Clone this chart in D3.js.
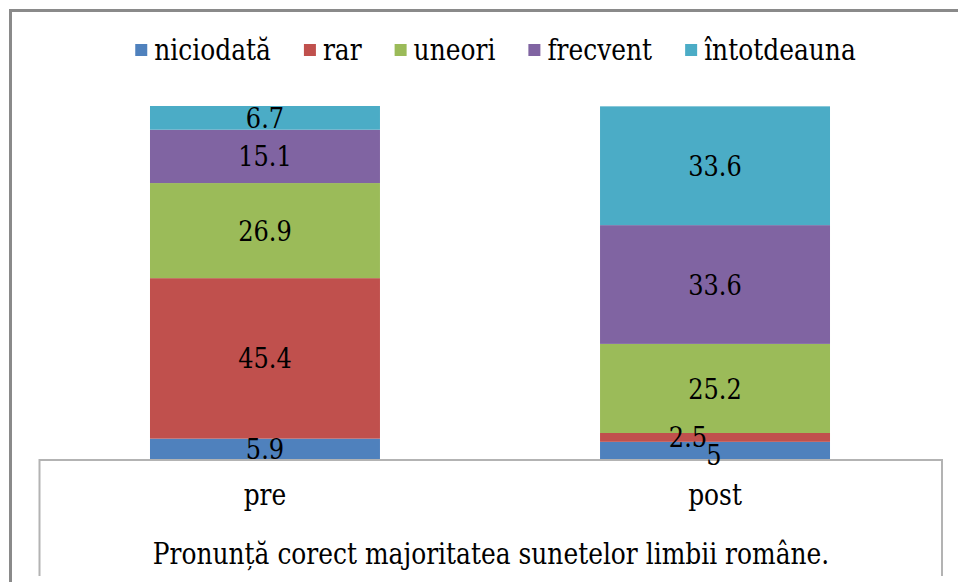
<!DOCTYPE html>
<html>
<head>
<meta charset="utf-8">
<script src="https://cdn.jsdelivr.net/npm/d3@7/dist/d3.min.js"></script>
<style>
  html, body { margin: 0; padding: 0; background: #ffffff; }
  svg { display: block; }
</style>
</head>
<body>
<svg id="chart" width="958" height="582"></svg>
<script>
// Chart data
const categories = ["pre", "post"];
const seriesNames = ["niciodată", "rar", "uneori", "frecvent", "întotdeauna"];
const niciodata   = [5.9, 5];
const rar         = [45.4, 2.5];
const uneori      = [26.9, 25.2];
const frecvent    = [15.1, 33.6];
const intotdeauna = [6.7, 33.6];
const axisTitle = "Pronunță corect majoritatea sunetelor limbii române.";

const seriesValues = [niciodata, rar, uneori, frecvent, intotdeauna];
const colors = ["#4F81BD", "#C0504D", "#9BBB59", "#8064A2", "#4BACC6"];
const serif = "DejaVu Serif";
const narrow = 0.86; // horizontal squeeze for a Times-like narrow serif

const svg = d3.select("#chart");

// Place a text at (x, y), narrowed horizontally
function place(sel, fx, fy) {
  sel.attr("x", 0).attr("y", 0)
    .attr("transform", (d, i) => `translate(${fx(d, i)},${fy(d, i)}) scale(${narrow},1)`);
}

// Outer chart border (continues past the right and bottom edges)
svg.append("path")
  .attr("d", "M10.5,600 L10.5,10.5 L980,10.5")
  .attr("fill", "none")
  .attr("stroke", "#8a8a8a")
  .attr("stroke-width", 3);

// Table of rows for the stack
const rows = categories.map((c, i) => {
  const r = { category: c };
  seriesNames.forEach((s, k) => { r[s] = seriesValues[k][i]; });
  return r;
});
const stacked = d3.stack().keys(seriesNames)(rows);

const x = d3.scaleBand()
  .domain(categories)
  .range([40, 940])
  .paddingInner(0.489)
  .paddingOuter(0.2444);

const y = d3.scaleLinear().domain([0, 100]).range([459.5, 106]);

// Bars
const layers = svg.append("g").selectAll("g")
  .data(stacked)
  .join("g")
  .attr("fill", (d, i) => colors[i]);

layers.selectAll("rect")
  .data(d => d)
  .join("rect")
  .attr("x", d => x(d.data.category))
  .attr("width", x.bandwidth())
  .attr("y", d => y(d[1]))
  .attr("height", d => y(d[0]) - y(d[1]));

// Category axis box drawn over the base of the bars
svg.append("path")
  .attr("d", "M39.5,576 L39.5,460 L942,460 L942,576")
  .attr("fill", "none")
  .attr("stroke", "#b3b3b3")
  .attr("stroke-width", 2);

// Category labels
svg.append("g").selectAll("text")
  .data(categories)
  .join("text")
  .attr("text-anchor", "middle")
  .attr("font-family", serif)
  .attr("font-size", 29)
  .text(d => d)
  .call(place, d => x(d) + x.bandwidth() / 2, () => 505);

// Axis title
svg.append("text")
  .datum(axisTitle)
  .attr("text-anchor", "middle")
  .attr("font-family", serif)
  .attr("font-size", 29)
  .text(d => d)
  .call(place, () => 491, () => 564);

// Data labels, centred in each segment; tiny segments are nudged to avoid overlap
const labelNudge = { "post|rar": [-27, 0], "post|niciodată": [-1, 4] };
const labels = [];
stacked.forEach(layer => {
  layer.forEach(d => {
    labels.push({ key: layer.key, cat: d.data.category, v: d.data[layer.key], y0: d[0], y1: d[1] });
  });
});
const nudge = d => labelNudge[d.cat + "|" + d.key] || [0, 0];
svg.append("g").selectAll("text")
  .data(labels)
  .join("text")
  .attr("dy", "0.36em")
  .attr("text-anchor", "middle")
  .attr("font-family", serif)
  .attr("font-size", 28)
  .text(d => d.v)
  .call(place,
    d => x(d.cat) + x.bandwidth() / 2 + nudge(d)[0],
    d => (y(d.y0) + y(d.y1)) / 2 + nudge(d)[1]);

// Legend
const legend = svg.append("g");
const items = legend.selectAll("g")
  .data(seriesNames)
  .join("g");
items.append("rect")
  .attr("width", 12).attr("height", 12)
  .attr("y", 44)
  .attr("fill", (d, i) => colors[i]);
items.append("text")
  .attr("font-family", serif)
  .attr("font-size", 29)
  .text(d => d)
  .call(place, () => 19, () => 60);
const gap = 33;
let cx = 0;
items.each(function () {
  const w = d3.select(this).select("text").node().getComputedTextLength() * narrow;
  d3.select(this).attr("transform", `translate(${cx},0)`);
  cx += 19 + w + gap;
});
const legendWidth = cx - gap;
legend.attr("transform", `translate(${495.5 - legendWidth / 2},0)`);
</script>
</body>
</html>
